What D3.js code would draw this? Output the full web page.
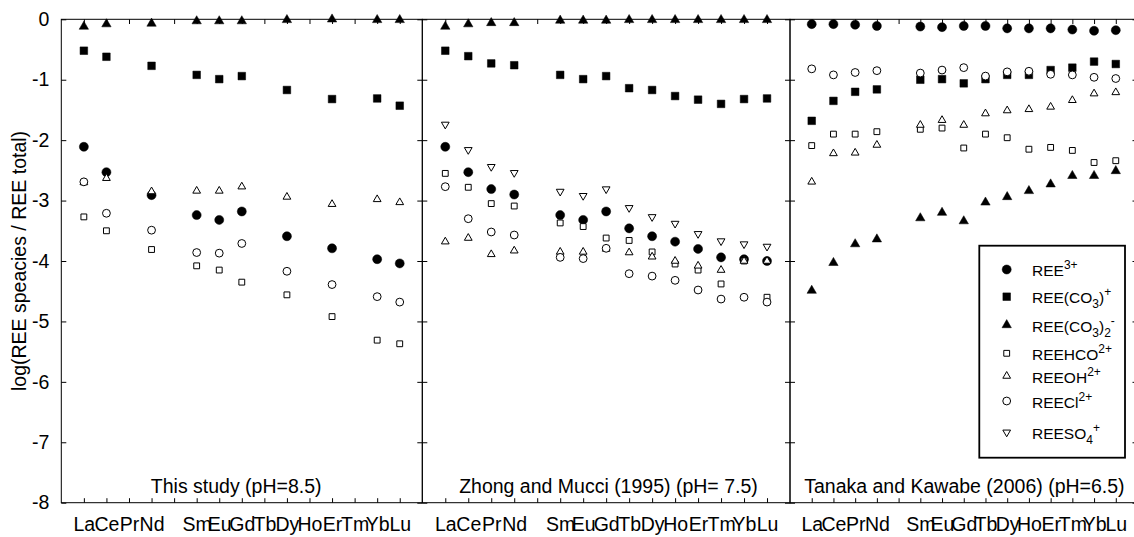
<!DOCTYPE html>
<html>
<head>
<meta charset="utf-8">
<script src="https://cdn.jsdelivr.net/npm/d3@7"></script>
<style>
  html, body { margin: 0; padding: 0; background: #fff; }
  svg { display: block; }
  text { font-family: "Liberation Sans", Arial, sans-serif; fill: #000; }
</style>
</head>
<body>
<svg id="chart" width="1134" height="537"></svg>
<script>
// Rare earth elements on the x axis (Pm has no value and no label)
const elements = ["La","Ce","Pr","Nd","Pm","Sm","Eu","Gd","Tb","Dy","Ho","Er","Tm","Yb","Lu"];
const elementLabels = ["La","Ce","Pr","Nd","","Sm","Eu","Gd","Tb","Dy","Ho","Er","Tm","Yb","Lu"];
const yTickValues = [0,-1,-2,-3,-4,-5,-6,-7,-8];
const yAxisTitle = "log(REE speacies / REE total)";
const panelTitles = [
  "This study (pH=8.5)",
  "Zhong and Mucci (1995) (pH= 7.5)",
  "Tanaka and Kawabe (2006) (pH=6.5)"
];

// Species order: REE3+, REE(CO3)+, REE(CO3)2-, REEHCO2+, REEOH2+, REECl2+, REESO4+
// This study (pH = 8.5)
const studyElements = ["La","Ce","Nd","Sm","Eu","Gd","Dy","Er","Yb","Lu"];
const studyFree   = [-2.11,-2.53,-2.91,-3.24,-3.32,-3.18,-3.59,-3.79,-3.97,-4.04];
const studyCO3    = [-0.52,-0.62,-0.77,-0.92,-0.99,-0.94,-1.17,-1.32,-1.31,-1.43];
const studyDiCO3  = [-0.12,-0.08,-0.07,-0.03,-0.03,-0.03,-0.01,0.00,-0.01,-0.01];
const studyHCO3   = [-3.27,-3.50,-3.81,-4.08,-4.15,-4.35,-4.56,-4.92,-5.31,-5.37];
const studyOH     = [-2.70,-2.63,-2.85,-2.84,-2.84,-2.77,-2.94,-3.06,-2.98,-3.03];
const studyCl     = [-2.69,-3.21,-3.49,-3.86,-3.87,-3.71,-4.17,-4.39,-4.59,-4.68];

// Zhong and Mucci (1995), pH = 7.5
const zmElements = ["La","Ce","Pr","Nd","Sm","Eu","Gd","Tb","Dy","Ho","Er","Tm","Yb","Lu"];
const zmFree   = [-2.11,-2.53,-2.81,-2.90,-3.24,-3.32,-3.18,-3.46,-3.59,-3.68,-3.80,-3.94,-3.97,-4.00];
const zmCO3    = [-0.52,-0.61,-0.73,-0.76,-0.92,-0.99,-0.94,-1.14,-1.17,-1.27,-1.33,-1.40,-1.32,-1.31];
const zmDiCO3  = [-0.12,-0.08,-0.06,-0.06,-0.02,-0.02,-0.02,-0.01,-0.01,-0.01,-0.01,-0.01,-0.01,-0.01];
const zmHCO3   = [-2.55,-2.78,-3.05,-3.09,-3.37,-3.43,-3.62,-3.66,-3.85,-4.05,-4.15,-4.38,-4.00,-4.60];
const zmOH     = [-3.68,-3.62,-3.89,-3.83,-3.85,-3.85,-3.80,-3.86,-3.93,-4.00,-4.08,-4.15,-4.00,-4.00];
const zmCl     = [-2.77,-3.30,-3.52,-3.57,-3.94,-3.96,-3.79,-4.21,-4.25,-4.32,-4.48,-4.63,-4.60,-4.68];
const zmSO4    = [-1.74,-2.16,-2.44,-2.54,-2.85,-2.92,-2.81,-3.12,-3.27,-3.38,-3.55,-3.67,-3.72,-3.76];

// Tanaka and Kawabe (2006), pH = 6.5
const tkElements = ["La","Ce","Pr","Nd","Sm","Eu","Gd","Tb","Dy","Ho","Er","Tm","Yb","Lu"];
const tkFree   = [-0.08,-0.08,-0.09,-0.11,-0.12,-0.13,-0.11,-0.11,-0.15,-0.15,-0.15,-0.17,-0.19,-0.18];
const tkCO3    = [-1.68,-1.35,-1.20,-1.16,-1.00,-0.99,-1.06,-0.99,-0.92,-0.92,-0.84,-0.80,-0.70,-0.74];
const tkDiCO3  = [-4.49,-4.03,-3.72,-3.64,-3.29,-3.20,-3.34,-3.03,-2.94,-2.84,-2.73,-2.59,-2.59,-2.51];
const tkHCO3   = [-2.09,-1.90,-1.90,-1.86,-1.82,-1.80,-2.13,-1.90,-1.96,-2.15,-2.12,-2.17,-2.37,-2.34];
const tkOH     = [-2.69,-2.22,-2.21,-2.08,-1.75,-1.67,-1.75,-1.56,-1.51,-1.49,-1.45,-1.34,-1.23,-1.21];
const tkCl     = [-0.82,-0.92,-0.88,-0.85,-0.89,-0.84,-0.80,-0.94,-0.87,-0.86,-0.91,-0.92,-0.96,-0.98];

// Legend text, split into [text, shift] pieces: 0 normal, 1 superscript, -1 subscript
const speciesLabels = [
  [["REE",0],["3+",1]],
  [["REE(CO",0],["3",-1],[")",0],["+",1]],
  [["REE(CO",0],["3",-1],[")",0],["2",-1],["-",1]],
  [["REEHCO",0],["2+",1]],
  [["REEOH",0],["2+",1]],
  [["REECl",0],["2+",1]],
  [["REESO",0],["4",-1],["+",1]]
];

// ---- layout ----
const svg = d3.select("#chart");
const plotTop = 19.3, plotBottom = 502.7;
const panelEdges = [61.3, 422.3, 790, 1137.5];
const y = d3.scaleLinear().domain([-8, 0]).range([plotBottom, plotTop]);

const markerStyles = [
  { type: d3.symbolCircle,   size: 64, filled: true },
  { type: d3.symbolSquare,   size: 58, filled: true },
  { type: d3.symbolTriangle, size: 38, filled: true },
  { type: d3.symbolSquare,   size: 34, filled: false },
  { type: d3.symbolTriangle, size: 26, filled: false },
  { type: d3.symbolCircle,   size: 48, filled: false },
  { type: d3.symbolTriangle, size: 26, filled: false, rotate: 180 }
];

const panels = [
  { title: panelTitles[0], titleX: 7.75, elements: studyElements,
    series: [studyFree, studyCO3, studyDiCO3, studyHCO3, studyOH, studyCl, null] },
  { title: panelTitles[1], titleX: 8.1, elements: zmElements,
    series: [zmFree, zmCO3, zmDiCO3, zmHCO3, zmOH, zmCl, zmSO4] },
  { title: panelTitles[2], titleX: 8.03, elements: tkElements,
    series: [tkFree, tkCO3, tkDiCO3, tkHCO3, tkOH, tkCl, null] }
];

function styleAxis(g, fontSize) {
  g.select(".domain").remove();
  g.selectAll("line").attr("stroke", "#000").attr("stroke-width", 1);
  g.selectAll("text").attr("font-family", "\"Liberation Sans\", Arial, sans-serif")
    .attr("font-size", fontSize).attr("fill", "#000");
}

function symbolPath(st) {
  return d3.symbol(st.type, st.size)();
}

const tickPositions = d3.range(1, elements.length + 1);

panels.forEach((p, pi) => {
  const x = d3.scaleLinear().domain([0, 16]).range([panelEdges[pi], panelEdges[pi + 1]]);
  const g = svg.append("g").attr("class", "panel");

  // bottom axis with element names
  g.append("g").attr("transform", `translate(0,${plotBottom})`)
    .call(d3.axisBottom(x).tickValues(tickPositions)
      .tickSizeInner(-4.5).tickSizeOuter(0).tickPadding(14.8)
      .tickFormat(d => elementLabels[d - 1]))
    .call(a => styleAxis(a, 19.5));

  // top axis, ticks only
  g.append("g").attr("transform", `translate(0,${plotTop})`)
    .call(d3.axisTop(x).tickValues(tickPositions)
      .tickSizeInner(-4.7).tickSizeOuter(0).tickFormat(""))
    .call(a => styleAxis(a, 19.5));

  // left axis (labels on the first panel only, plain hyphen minus)
  g.append("g").attr("transform", `translate(${panelEdges[pi]},0)`)
    .call(d3.axisLeft(y).tickValues(yTickValues)
      .tickSizeInner(-5).tickSizeOuter(0).tickPadding(12)
      .tickFormat(pi === 0 ? (d => String(d)) : ""))
    .call(a => styleAxis(a, 19.5));

  // right axis, ticks only
  g.append("g").attr("transform", `translate(${panelEdges[pi + 1]},0)`)
    .call(d3.axisRight(y).tickValues(yTickValues)
      .tickSizeInner(-5).tickSizeOuter(0).tickFormat(""))
    .call(a => styleAxis(a, 19.5));

  // frame
  g.append("rect")
    .attr("x", panelEdges[pi]).attr("y", plotTop)
    .attr("width", panelEdges[pi + 1] - panelEdges[pi])
    .attr("height", plotBottom - plotTop)
    .attr("fill", "none").attr("stroke", "#000").attr("stroke-width", 1);

  // markers
  p.series.forEach((vals, si) => {
    if (!vals) return;
    const st = markerStyles[si];
    const pts = p.elements.map((el, k) => ({ el, v: vals[k] })).filter(d => d.v != null);
    g.append("g").selectAll("path").data(pts).join("path")
      .attr("transform", d => `translate(${x(elements.indexOf(d.el) + 1)},${y(d.v)})` +
        (st.rotate ? ` rotate(${st.rotate})` : ""))
      .attr("d", symbolPath(st))
      .attr("fill", st.filled ? "#000" : "#fff")
      .attr("stroke", "#000")
      .attr("stroke-width", st.filled ? 0.5 : 1);
  });

  // panel caption
  g.append("text")
    .attr("x", x(p.titleX)).attr("y", plotBottom - 10)
    .attr("text-anchor", "middle").attr("font-size", 19.5)
    .text(p.title);
});

// y axis title
svg.append("text")
  .attr("transform", `translate(26,${(plotTop + plotBottom) / 2}) rotate(-90)`)
  .attr("text-anchor", "middle").attr("font-size", 19.5)
  .text(yAxisTitle);

// legend
const legend = svg.append("g").attr("class", "legend");
legend.append("rect")
  .attr("x", 979.3).attr("y", 245.7).attr("width", 145.7).attr("height", 212)
  .attr("fill", "#fff").attr("stroke", "#000").attr("stroke-width", 1.8);

const legendRowY = [269.5, 296.7, 325, 353.3, 376, 401, 432.3];
speciesLabels.forEach((parts, i) => {
  const st = markerStyles[i];
  legend.append("path")
    .attr("transform", `translate(1006.7,${legendRowY[i]})` + (st.rotate ? ` rotate(${st.rotate})` : ""))
    .attr("d", symbolPath(st))
    .attr("fill", st.filled ? "#000" : "#fff")
    .attr("stroke", "#000")
    .attr("stroke-width", st.filled ? 0.5 : 1);

  const t = legend.append("text")
    .attr("x", 1032).attr("y", legendRowY[i] + 6.5)
    .attr("font-size", 15.5);
  let shift = 0;
  parts.forEach(([txt, kind]) => {
    const target = kind === 1 ? -7 : kind === -1 ? 5 : 0;
    t.append("tspan")
      .attr("dy", target - shift)
      .attr("font-size", kind === 0 ? 15.5 : 12)
      .text(txt);
    shift = target;
  });
});
</script>
</body>
</html>
